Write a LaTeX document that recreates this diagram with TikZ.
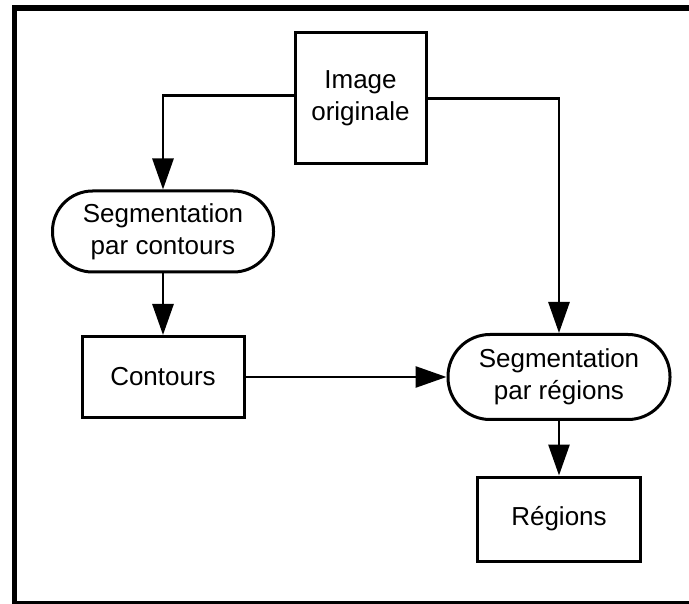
\documentclass[tikz,border=0pt]{standalone}
\usepackage{fontspec}
\setmainfont{Liberation Sans}
\usetikzlibrary{arrows.meta}
\tikzset{
  box/.style={draw, line width=3pt, rectangle, inner sep=0pt, align=center,
    font=\fontsize{26}{32}\selectfont},
  stadium/.style={box, rounded corners=40pt},
  arr/.style={draw, line width=2.8pt, -{Triangle[length=31pt,width=21pt]}},
}
\begin{document}
\begin{tikzpicture}[x=1pt,y=-1pt]
\useasboundingbox (0,0) rectangle (689,604);
\draw[line width=5.5pt] (14.5,8) rectangle (700,603.5);
\node[box, minimum width=131pt, minimum height=131pt] (img) at (360.5,98.5) {Image\\originale};
\node[stadium, minimum width=221pt, minimum height=81pt] (seg1) at (163,231.5) {Segmentation\\par contours};
\node[box, minimum width=162pt, minimum height=81pt] (cont) at (163,377) {Contours};
\node[stadium, minimum width=222pt, minimum height=85pt, rounded corners=42pt] (seg2) at (559,377) {Segmentation\\par régions};
\node[box, minimum width=163pt, minimum height=84pt] (reg) at (559,519) {Régions};
\draw[arr] ([yshift=3pt]img.west) -| (seg1.north);
\draw[arr] (img.east) -| (seg2.north);
\draw[arr] (seg1.south) -- (cont.north);
\draw[arr] (cont.east) -- (seg2.west);
\draw[arr] (seg2.south) -- (reg.north);
\end{tikzpicture}
\end{document}
